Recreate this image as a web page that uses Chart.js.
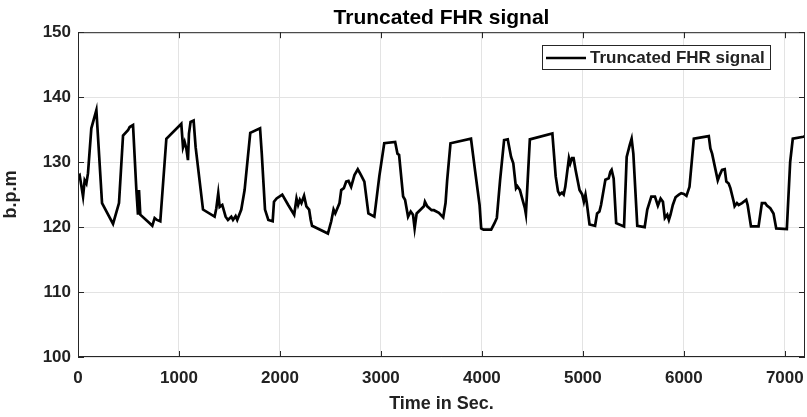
<!DOCTYPE html>
<html>
<head>
<meta charset="utf-8">
<script src="https://cdn.jsdelivr.net/npm/chart.js@4.4.1/dist/chart.umd.min.js"></script>
<style>
  html, body { margin: 0; padding: 0; background: #fff; }
  #wrap { width: 807px; height: 417px; }
</style>
</head>
<body>
<div id="wrap"><canvas id="chart" width="807" height="417"></canvas></div>
<script>
// data
const timeSec = [0, 16, 50, 66, 83, 99, 132, 182, 238, 347, 406, 446, 495, 512, 545, 578, 594, 604, 617, 710,
  736, 759, 782, 815, 875, 1023, 1040, 1056, 1073, 1089, 1099, 1115, 1145, 1165, 1238, 1353, 1370, 1389, 1403, 1429,
  1462, 1485, 1518, 1535, 1561, 1577, 1617, 1650, 1706, 1803, 1820, 1852, 1885, 1928, 1941, 1967, 2023, 2082, 2141, 2164,
  2180, 2197, 2213, 2239, 2262, 2289, 2305, 2318, 2475, 2508, 2531, 2548, 2564, 2590, 2607, 2633, 2656, 2679, 2705, 2738,
  2771, 2803, 2836, 2876, 2935, 2984, 3033, 3141, 3164, 3180, 3220, 3239, 3269, 3295, 3318, 3334, 3354, 3394, 3426, 3436,
  3459, 3502, 3525, 3574, 3617, 3640, 3656, 3689, 3892, 3934, 3977, 3993, 4016, 4092, 4125, 4148, 4180, 4220, 4256, 4289,
  4311, 4338, 4351, 4377, 4403, 4426, 4436, 4475, 4698, 4731, 4754, 4770, 4793, 4810, 4826, 4862, 4875, 4892, 4908, 4928,
  4967, 4994, 5010, 5026, 5039, 5066, 5121, 5141, 5164, 5180, 5223, 5256, 5272, 5285, 5305, 5330, 5408, 5434, 5464, 5483,
  5500, 5539, 5612, 5638, 5678, 5714, 5743, 5770, 5793, 5812, 5836, 5852, 5868, 5891, 5918, 5951, 5974, 6000, 6026, 6056,
  6099, 6247, 6263, 6280, 6336, 6355, 6378, 6405, 6421, 6444, 6461, 6494, 6503, 6526, 6543, 6576, 6618, 6632, 6665, 6740,
  6773, 6806, 6823, 6856, 6888, 6915, 7020, 7053, 7079, 7184, 7200];

const fhrBpm = [127.8, 128, 124.7, 127.2, 126.7, 128.3, 135.2, 138, 123.7, 120.5, 123.7, 134.1, 134.9, 135.4, 135.7, 125.7, 121.9, 125.7, 121.9, 120.6,
  120.2, 121.4, 121.1, 120.9, 133.6, 135.9, 132.3, 133.1, 132.1, 130.3, 134.4, 136.2, 136.4, 132.3, 122.7, 121.6, 122.9, 125.2, 123.1, 123.4,
  121.6, 121.1, 121.6, 121.1, 121.7, 121.1, 122.7, 125.7, 134.5, 135.2, 131.3, 122.7, 121.1, 120.9, 123.9, 124.4, 125, 123.4, 121.9, 124.4,
  123.4, 124.2, 123.7, 124.8, 123.2, 122.7, 121.1, 120.2, 119, 120.9, 122.7, 122.1, 122.7, 123.7, 125.7, 126, 127, 127.1, 126.2, 128,
  128.9, 128, 127, 122.1, 121.6, 127.8, 132.9, 133.1, 131.3, 131.1, 124.7, 124.2, 121.6, 122.4, 121.9, 119.8, 122.1, 122.7, 123.2, 123.9,
  123.2, 122.6, 122.6, 122.2, 121.5, 123.7, 127.2, 132.9, 133.6, 128.5, 123.4, 119.8, 119.6, 119.6, 120.6, 121.4, 127.2, 133.4, 133.5, 130.8,
  129.8, 126, 126.3, 125.7, 124.2, 122.9, 122, 133.5, 134.4, 127.8, 125.5, 125, 125.3, 125, 126.2, 130.6, 129.8, 130.6, 130.6, 128.8,
  125.7, 125, 123.9, 125, 123.7, 120.4, 120.2, 122.1, 122.4, 123.4, 127.3, 127.5, 128.5, 128.8, 127.5, 120.6, 120.1, 130.8, 132.6, 133.6,
  131.3, 120.2, 120, 122.7, 124.7, 124.7, 123.3, 124.4, 123.9, 121.4, 121.9, 121.1, 121.9, 123.4, 124.6, 125, 125.2, 125.1, 124.8, 126.2,
  133.6, 134, 132.1, 131.3, 127.2, 128, 128.8, 128.9, 127, 126.7, 126, 123.9, 123.2, 123.7, 123.4, 123.7, 124.2, 123.4, 120.1, 120.1,
  123.7, 123.7, 123.3, 122.9, 122.1, 119.8, 119.7, 130, 133.6, 133.9, 134];

const xTicks = [0, 1000, 2000, 3000, 4000, 5000, 6000, 7000];
const yTicks = [100, 110, 120, 130, 140, 150];
const seriesName = 'Truncated FHR signal';

const textColor = '#222';
const fontFam = '"Liberation Sans", Arial, sans-serif';

// box round the plot, with matlab style ticks pointing inward
const boxPlugin = {
  id: 'box',
  afterDraw(chart) {
    const { ctx, chartArea: a, scales } = chart;
    const len = 6;
    ctx.save();
    ctx.strokeStyle = '#262626';
    ctx.lineWidth = 1;
    ctx.strokeRect(a.left + 0.5, a.top + 0.5, a.right - a.left - 1, a.bottom - a.top - 1);
    ctx.beginPath();
    xTicks.forEach(v => {
      const px = Math.round(scales.x.getPixelForValue(v)) + 0.5;
      ctx.moveTo(px, a.bottom); ctx.lineTo(px, a.bottom - len);
      ctx.moveTo(px, a.top); ctx.lineTo(px, a.top + len);
    });
    yTicks.forEach(v => {
      const py = Math.round(scales.y.getPixelForValue(v)) + 0.5;
      ctx.moveTo(a.left, py); ctx.lineTo(a.left + len, py);
      ctx.moveTo(a.right, py); ctx.lineTo(a.right - len, py);
    });
    ctx.stroke();

    // legend box inside the plot
    const bx = 542, by = 45, bw = 228, bh = 24;
    ctx.fillStyle = '#fff';
    ctx.fillRect(bx, by, bw, bh);
    ctx.strokeStyle = '#262626';
    ctx.strokeRect(bx + 0.5, by + 0.5, bw, bh);
    ctx.strokeStyle = '#000';
    ctx.lineWidth = 2.6;
    ctx.beginPath();
    ctx.moveTo(bx + 4, by + bh / 2 + 1);
    ctx.lineTo(bx + 44, by + bh / 2 + 1);
    ctx.stroke();
    ctx.fillStyle = textColor;
    ctx.font = 'bold 17px ' + fontFam;
    ctx.textBaseline = 'middle';
    ctx.textAlign = 'left';
    ctx.fillText(seriesName, bx + 48, by + bh / 2 + 1);
    ctx.restore();
  }
};

new Chart(document.getElementById('chart').getContext('2d'), {
  type: 'line',
  data: {
    datasets: [{
      label: seriesName,
      data: timeSec.map((t, i) => ({ x: t, y: fhrBpm[i] })),
      borderColor: '#000',
      borderWidth: 2.7,
      pointRadius: 0,
      tension: 0,
      fill: false
    }]
  },
  options: {
    responsive: false,
    animation: false,
    layout: { padding: { top: 0, right: 2, left: 0, bottom: 0 } },
    plugins: {
      legend: { display: false },
      tooltip: { enabled: false },
      title: {
        display: true,
        fullSize: false,
        text: 'Truncated FHR signal',
        color: '#000',
        font: { family: fontFam, size: 21, weight: 'bold' },
        padding: { top: 6, bottom: 1 }
      }
    },
    scales: {
      x: {
        type: 'linear',
        min: 0,
        max: 7200,
        afterBuildTicks: s => { s.ticks = xTicks.map(v => ({ value: v })); },
        afterFit: s => { s.height = 60; s.paddingLeft = 0; s.paddingRight = 0; },
        border: { display: false },
        grid: { color: '#e3e3e3', lineWidth: 1, drawTicks: false },
        ticks: {
          color: textColor,
          padding: 11,
          maxRotation: 0,
          callback: v => String(v),
          font: { family: fontFam, size: 17, weight: 'bold' }
        },
        title: {
          display: true,
          text: 'Time in Sec.',
          color: textColor,
          padding: { top: 4, bottom: 2 },
          font: { family: fontFam, size: 18, weight: 'bold' }
        }
      },
      y: {
        min: 100,
        max: 150,
        afterBuildTicks: s => { s.ticks = yTicks.map(v => ({ value: v })); },
        afterFit: s => { s.width = 78; },
        border: { display: false },
        grid: { color: '#e3e3e3', lineWidth: 1, drawTicks: false },
        ticks: {
          color: textColor,
          padding: 7,
          callback: v => String(v),
          font: { family: fontFam, size: 17, weight: 'bold' }
        },
        title: {
          display: true,
          text: 'b.p.m',
          color: textColor,
          padding: { top: 0, bottom: 2 },
          font: { family: fontFam, size: 18, weight: 'bold' }
        }
      }
    }
  },
  plugins: [boxPlugin]
});
</script>
</body>
</html>
